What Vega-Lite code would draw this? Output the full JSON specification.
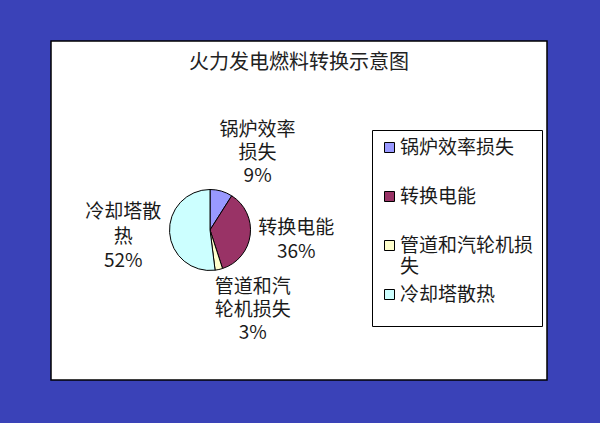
{
  "$schema": "https://vega.github.io/schema/vega-lite/v6.json",
  "width": 496,
  "height": 339,
  "autosize": {"type": "none"},
  "padding": {"left": 51, "top": 41, "right": 53, "bottom": 43},
  "background": "#3a42b8",
  "config": {
    "view": {"fill": "white", "stroke": "black", "strokeWidth": 1.5},
    "text": {"font": "Noto Sans CJK SC", "fontSize": 19, "color": "#1a1a1a"},
    "legend": {
      "orient": "none",
      "legendX": 321,
      "legendY": 89,
      "strokeColor": "black",
      "fillColor": "white",
      "padding": 8,
      "symbolType": "square",
      "symbolSize": 100,
      "symbolStrokeColor": "black",
      "symbolStrokeWidth": 1,
      "labelFont": "Noto Sans CJK SC",
      "labelFontSize": 19,
      "labelColor": "#1a1a1a",
      "labelLimit": 200,
      "labelOffset": 1,
      "rowPadding": 8
    }
  },
  "datasets": {
    "shares": [
      {"item": "锅炉效率损失", "share": 9, "label": "锅炉效率\n损失\n9%", "idx": 1},
      {"item": "转换电能", "share": 36, "label": "转换电能\n36%", "idx": 2},
      {"item": "管道和汽轮机损失", "share": 3, "label": "管道和汽\n轮机损失\n3%", "idx": 3},
      {"item": "冷却塔散热", "share": 52, "label": "冷却塔散\n热\n52%", "idx": 4}
    ],
    "heading": [{"title": "火力发电燃料转换示意图"}]
  },
  "layer": [
    {
      "data": {"name": "shares"},
      "mark": {"type": "arc", "outerRadius": 40.5, "stroke": "black", "strokeWidth": 1},
      "encoding": {
        "theta": {"field": "share", "type": "quantitative", "stack": true},
        "order": {"field": "idx", "type": "quantitative"},
        "x": {"datum": 0.3206, "type": "quantitative", "scale": {"domain": [0, 1]}, "axis": null},
        "y": {"datum": 0.4425, "type": "quantitative", "scale": {"domain": [0, 1]}, "axis": null},
        "color": {
          "field": "item",
          "type": "nominal",
          "scale": {
            "domain": ["锅炉效率损失", "转换电能", "管道和汽轮机损失", "冷却塔散热"],
            "range": ["#9999FF", "#993366", "#FFFFCC", "#CCFFFF"]
          },
          "legend": {
            "title": " ",
            "titleOrient": "bottom",
            "titleFontSize": 8,
            "titlePadding": 5,
            "labelExpr": "datum.label == '管道和汽轮机损失' ? ['管道和汽轮机损', '失'] : datum.label == '冷却塔散热' ? datum.label : [datum.label, '']"
          }
        }
      }
    },
    {
      "data": {"name": "shares"},
      "mark": {"type": "text", "radius": 81, "dx": 25, "dy": -22, "lineBreak": "\n", "lineHeight": 23, "baseline": "middle", "align": "center"},
      "encoding": {
        "theta": {"field": "share", "type": "quantitative", "stack": true},
        "order": {"field": "idx", "type": "quantitative"},
        "x": {"datum": 0.3206, "type": "quantitative"},
        "y": {"datum": 0.4425, "type": "quantitative"},
        "text": {"condition": {"test": "datum.share < 10", "field": "label"}, "value": ""}
      }
    },
    {
      "data": {"name": "shares"},
      "mark": {"type": "text", "radius": 87, "dy": -13, "lineBreak": "\n", "lineHeight": 24, "baseline": "middle", "align": "center"},
      "encoding": {
        "theta": {"field": "share", "type": "quantitative", "stack": true},
        "order": {"field": "idx", "type": "quantitative"},
        "x": {"datum": 0.3206, "type": "quantitative"},
        "y": {"datum": 0.4425, "type": "quantitative"},
        "text": {"condition": {"test": "datum.share >= 10 && datum.share < 40", "field": "label"}, "value": ""}
      }
    },
    {
      "data": {"name": "shares"},
      "mark": {"type": "text", "radius": 87, "dy": -23, "lineBreak": "\n", "lineHeight": 24.5, "baseline": "middle", "align": "center"},
      "encoding": {
        "theta": {"field": "share", "type": "quantitative", "stack": true},
        "order": {"field": "idx", "type": "quantitative"},
        "x": {"datum": 0.3206, "type": "quantitative"},
        "y": {"datum": 0.4425, "type": "quantitative"},
        "text": {"condition": {"test": "datum.share >= 40", "field": "label"}, "value": ""}
      }
    },
    {
      "data": {"name": "heading"},
      "mark": {"type": "text", "fontSize": 20, "color": "#222222", "baseline": "middle", "align": "center"},
      "encoding": {
        "x": {"datum": 0.5, "type": "quantitative"},
        "y": {"datum": 0.935, "type": "quantitative"},
        "text": {"field": "title", "type": "nominal"}
      }
    }
  ]
}
